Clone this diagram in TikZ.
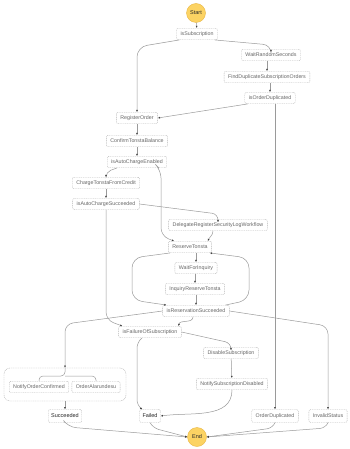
\documentclass[tikz,border=0pt]{standalone}
\usepackage{fontspec}
\setmainfont{Liberation Sans}
\usetikzlibrary{arrows.meta}
\definecolor{linec}{HTML}{9A9A9A}
\definecolor{nodeb}{HTML}{B4B4B4}
\definecolor{txt}{HTML}{666666}
\definecolor{gold}{HTML}{FCD363}
\definecolor{goldb}{HTML}{E9B744}
\begin{document}
\begin{tikzpicture}[x=1pt,y=-1pt,
  st/.style={draw=nodeb, dash pattern=on 1pt off 0.8pt, rounded corners=2pt, fill=white,
    font=\fontsize{5.3}{6}\selectfont, text=txt, inner xsep=4pt, inner ysep=0pt,
    minimum height=11.5pt, line width=0.4pt},
  fin/.style={st, text=black!85, font=\fontsize{5.5}{6}\selectfont, minimum height=13pt, inner xsep=3pt},
  term/.style={circle, fill=gold, draw=goldb, line width=0.4pt, minimum size=19pt, inner sep=0pt,
    font=\fontsize{5.5}{6}\selectfont, text=black!85},
  edge/.style={draw=linec, line width=0.5pt, -{Latex[length=2.2pt,width=2pt,color=black!75]}},
  plain/.style={draw=linec, line width=0.5pt, rounded corners=4pt},
]
\useasboundingbox (0,0) rectangle (350,449);
\fill[white] (0,0) rectangle (350,449);

% nodes
\node[term] (start) at (196,13) {Start};
\node[st] (issub) at (197,34) {isSubscription};
\node[st] (wait) at (271,55) {WaitRandomSeconds};
\node[st] (find) at (267,77) {FindDuplicateSubscriptionOrders};
\node[st] (isdup) at (270,98) {isOrderDuplicated};
\node[st] (reg) at (137,118) {RegisterOrder};
\node[st] (conf) at (137,141) {ConfirmTonstaBalance};
\node[st] (isauto) at (137,162) {isAutoChargeEnabled};
\node[st] (charge) at (106,183) {ChargeTonstaFromCredit};
\node[st] (isacs) at (106,204) {isAutoChargeSucceeded};
\node[st] (deleg) at (218,225) {DelegateRegisterSecurityLogWorkflow};
\node[st] (reserve) at (190,247) {ReserveTonsta};
\node[st] (waitinq) at (196,268) {WaitForInquiry};
\node[st] (inq) at (195,289) {InquiryReserveTonsta};
\node[st] (isres) at (196,311) {isReservationSucceeded};
\node[st] (isfail) at (150,332) {isFailureOfSubscription};
\node[st] (disable) at (231,353) {DisableSubscription};
\node[st] (notify) at (232,384) {NotifySubscriptionDisabled};
\node[st, minimum width=122pt, minimum height=33pt, rounded corners=6pt] (group) at (65,384.5) {};
\node[st] (noc) at (39,387) {NotifyOrderConfirmed};
\node[st] (oa) at (96,387) {OrderAlarundesu};
\node[fin] (succ) at (65,416) {Succeeded};
\node[fin] (failed) at (150,416) {Failed};
\node[st, minimum height=13pt] (od) at (275,416) {OrderDuplicated};
\node[st, minimum height=13pt] (inv) at (328,416) {InvalidStatus};
\node[term] (end) at (197,437) {End};

% edges
\draw[edge] (start) -- (issub);
\draw[edge, rounded corners=8pt] ([xshift=-3pt]issub.south east) -- (271,45) -- (wait.north);
\draw[edge, rounded corners=10pt] ([xshift=3pt]issub.south west) -- (137,47) -- (reg.north);
\draw[edge] (wait.south -| find.north) -- (find.north);
\draw[edge] (find.south -| isdup.north) -- (isdup.north);
\draw[edge] ([xshift=3pt]isdup.south west) -- (reg.east);
\draw[edge] (isdup.south -| od.north) -- (od.north);
\draw[edge] (reg) -- (conf);
\draw[edge] (conf) -- (isauto);
\draw[edge, rounded corners=5pt] ([xshift=10pt]isauto.south west) -- (106,172) -- (charge.north);
\draw[edge, rounded corners=8pt] ([xshift=-8pt]isauto.south east) -- (161,170) -- (161,236) -- ([xshift=6pt]reserve.north west);
\draw[edge] (charge) -- (isacs);
\draw[edge, rounded corners=6pt] (isacs.east) -- (218,214) -- (deleg.north);
\draw[edge, rounded corners=8pt] (isacs.south) -- (106,320) -- ([xshift=4pt]isfail.north west);
\draw[edge] ([xshift=-5pt]deleg.south) to[out=-90,in=70] ([xshift=-4pt]reserve.north east);
\draw[edge] (reserve.south -| waitinq.north) -- (waitinq.north);
\draw[edge, rounded corners=10pt] ([xshift=2pt]reserve.south west) -- (132,258) -- (132,300) -- ([xshift=4pt]isres.north west);
\draw[edge, rounded corners=10pt] ([xshift=-4pt]isres.north east) -- (249,300) -- (249,258) -- ([xshift=-2pt]reserve.south east);
\draw[edge] (waitinq.south -| inq.north) -- (inq.north);
\draw[edge] (inq.south -| isres.north) -- (isres.north);
\draw[edge] ([xshift=-3pt]isres.south) to[out=-90,in=80] ([xshift=-3pt]isfail.north east);
\draw[edge, rounded corners=8pt] (isres.east) -- (328,326) -- (inv.north);
\draw[edge, rounded corners=8pt] (isres.west) -- (65,324) -- (group.north);
\draw[edge, rounded corners=6pt] (isfail.east) -- (231,343) -- (disable.north);
\draw[edge, rounded corners=6pt] ([xshift=-8pt]isfail.south) -- (137,342) -- (137,406) -- ([xshift=3pt]failed.north west);
\draw[edge] (disable) -- (notify);
\draw[edge] (notify.south) to[out=-90,in=8] (failed.east);
\coordinate (fork) at (65,376);
\draw[plain] (group.north) -- (fork) -- (39,376) -- (noc.north);
\draw[plain] (fork) -- (96,376) -- (oa.north);
\draw[edge] (group.south -| succ.north) -- (succ.north);
\draw[edge, rounded corners=8pt] (succ.south) -- (68,427) -- (end.west);
\draw[edge, rounded corners=6pt] (failed.south) -- (153,428) -- (end.west);
\draw[edge, rounded corners=6pt] (od.south) -- (273,428) -- (end.east);
\draw[edge, rounded corners=6pt] (inv.south) -- (326,428) -- (end.east);
\end{tikzpicture}
\end{document}
